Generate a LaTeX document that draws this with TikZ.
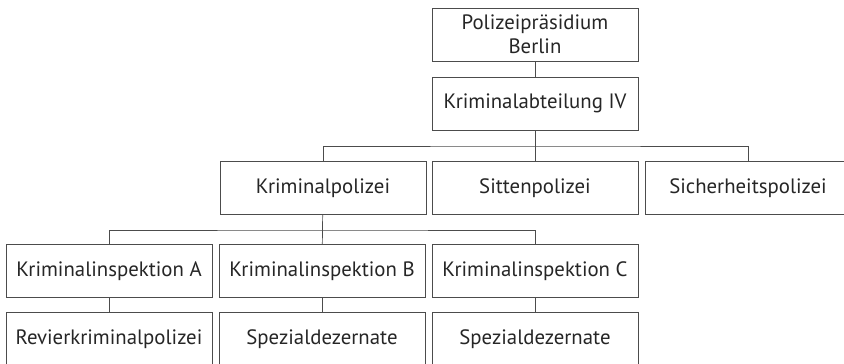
\documentclass[tikz,border=0pt]{standalone}
\usepackage{fontspec}
\setmainfont{PT Sans}
\usepackage{tikz}
\usetikzlibrary{positioning}

\begin{document}
\begin{tikzpicture}[
        x=1pt, y=-1pt,
        orgbox/.style={rectangle, draw=black!70, line width=0.8pt, fill=white, minimum width=206pt, minimum height=53pt, inner sep=2pt, align=center, font=\fontsize{20.8}{23.5}\selectfont, text=black!85},
        conn/.style={draw=black!70, line width=0.7pt}
    ]

    \clip (0,0) rectangle (844,364);

    % Top levels
    \node (praes) [orgbox] at (535,34.5) {Polizeipräsidium\\Berlin};
    \node (abt4) [orgbox] at (535,103.5) {Kriminalabteilung IV};

    % Second level
    \node (kripo) [orgbox] at (323,188) {Kriminalpolizei};
    \node (sitte) [orgbox] at (535,188) {Sittenpolizei};
    \node (sicher) [orgbox] at (748,188) {Sicherheitspolizei};

    % Inspections
    \node (inspA) [orgbox] at (109,271) {Kriminalinspektion A};
    \node (inspB) [orgbox] at (322,271) {Kriminalinspektion B};
    \node (inspC) [orgbox] at (535,271) {Kriminalinspektion C};

    % Lowest level
    \node (revier) [orgbox] at (109,339) {Revierkriminalpolizei};
    \node (spezB) [orgbox] at (322,339) {Spezialdezernate};
    \node (spezC) [orgbox] at (535,339) {Spezialdezernate};

    % Connectors
    \draw [conn] (praes) -- (abt4);
    \draw [conn] (abt4) -- (sitte);
    \coordinate (bus1) at (abt4.south |- 0,146);
    \draw [conn] (kripo.north) |- (bus1) -| (sicher.north);

    \draw [conn] (kripo) -- (inspB);
    \coordinate (bus2) at (kripo.south |- 0,230);
    \draw [conn] (inspA.north) |- (bus2) -| (inspC.north);

    \draw [conn] (inspA) -- (revier);
    \draw [conn] (inspB) -- (spezB);
    \draw [conn] (inspC) -- (spezC);

\end{tikzpicture}
\end{document}
